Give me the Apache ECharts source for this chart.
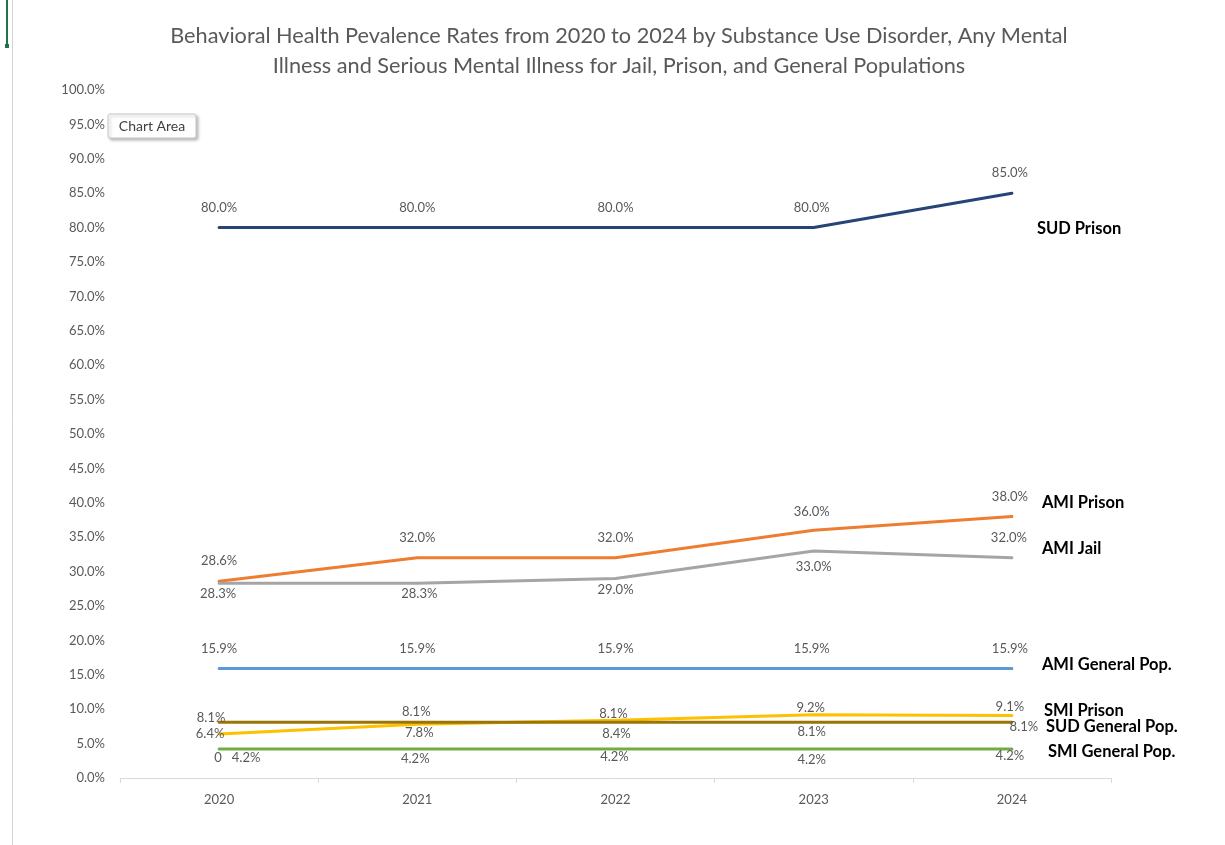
<!DOCTYPE html>
<html>
<head>
<meta charset="utf-8">
<script src="https://cdn.jsdelivr.net/npm/echarts@6/dist/echarts.min.js"></script>
<style>
html,body{margin:0;padding:0;background:#fff;}
#chart{width:1225px;height:845px;}
</style>
</head>
<body>
<div id="chart"></div>
<script>
// ---- data ----
const categories = ['2020', '2021', '2022', '2023', '2024'];
const sudPrison  = [80.0, 80.0, 80.0, 80.0, 85.0];
const amiPrison  = [28.6, 32.0, 32.0, 36.0, 38.0];
const amiJail    = [28.3, 28.3, 29.0, 33.0, 32.0];
const amiGeneral = [15.9, 15.9, 15.9, 15.9, 15.9];
const smiPrison  = [6.4, 7.8, 8.4, 9.2, 9.1];
const sudGeneral = [8.1, 8.1, 8.1, 8.1, 8.1];
const smiGeneral = [4.2, 4.2, 4.2, 4.2, 4.2];
const seriesNames = ['SUD Prison', 'AMI Prison', 'AMI Jail', 'AMI General Pop.', 'SMI Prison', 'SUD General Pop.', 'SMI General Pop.'];
const extraLabelText = '0';

// ---- styles (label placements relative to each point) ----
const labelOffsets = {
  'SUD Prison':       [[0,-20],[0,-20],[0,-20],[-2,-20],[-2,-20]],
  'AMI Prison':       [[0,-20],[0,-20],[0,-20],[-2,-19],[-2,-20]],
  'AMI Jail':         [[-1,11],[2,11],[0,11],[0,16],[-3,-20]],
  'AMI General Pop.': [[0,-20],[0,-20],[0,-20],[-2,-20],[-2,-20]],
  'SMI Prison':       [[-9,0],[2,8],[1,14],[-3,-7],[-2,-9]],
  'SUD General Pop.': [[-8,-4],[-1,-10],[-2,-8],[-2,10],[12,5]],
  'SMI General Pop.': [[27,9],[-2,10],[-1,8],[-2,11],[-2,7]]
};
const endOffsets = {
  'SUD Prison': [20,35], 'AMI Prison': [25,-14], 'AMI Jail': [25,-9],
  'AMI General Pop.': [25,-4], 'SMI Prison': [27,-5],
  'SUD General Pop.': [29,4], 'SMI General Pop.': [31,3]
};
const colors = ['#264478', '#ED7D31', '#A5A5A5', '#5B9BD5', '#FFC000', '#9A7407', '#70AD47'];
const allValues = [sudPrison, amiPrison, amiJail, amiGeneral, smiPrison, sudGeneral, smiGeneral];

const FONT = 'Lato';
const chart = echarts.init(document.getElementById('chart'), null, {renderer: 'canvas'});

const series = seriesNames.map((name, si) => ({
  name: name,
  type: 'line',
  z: 2 + si,
  symbol: 'circle',
  symbolSize: 2,
  showSymbol: true,
  color: colors[si],
  lineStyle: {width: 3, color: colors[si], cap: 'round'},
  itemStyle: {color: colors[si]},
  data: allValues[si].map((v, i) => ({
    value: v,
    label: {offset: labelOffsets[name][i]}
  })),
  label: {
    show: true,
    position: 'inside',
    formatter: p => p.value.toFixed(1) + '%',
    fontFamily: FONT, fontSize: 13, color: '#595959'
  },
  endLabel: {
    show: true,
    formatter: name,
    fontFamily: FONT, fontSize: 16.5, fontWeight: 'bold', color: '#000',
    distance: 5,
    offset: endOffsets[name]
  },
  emphasis: {disabled: true}
}));

chart.setOption({
  animation: false,
  backgroundColor: '#fff',
  title: {
    text: 'Behavioral Health Pevalence Rates from 2020 to 2024 by Substance Use Disorder, Any Mental\nIllness and Serious Mental Illness for Jail, Prison, and General Populations',
    left: 614, textAlign: 'center', top: 16,
    textStyle: {fontFamily: FONT, fontSize: 21.7, fontWeight: 'normal', color: '#595959', lineHeight: 30}
  },
  grid: {left: 120, right: 114, top: 90, bottom: 67, containLabel: false},
  xAxis: {
    type: 'category',
    data: categories,
    boundaryGap: true,
    axisLine: {lineStyle: {color: '#D9D9D9', width: 1}},
    axisTick: {show: true, length: 5, lineStyle: {color: '#D9D9D9'}},
    axisLabel: {fontFamily: FONT, fontSize: 13, color: '#595959', margin: 15},
    splitLine: {show: false}
  },
  yAxis: {
    type: 'value',
    min: 0, max: 100, interval: 5,
    axisLine: {show: false},
    axisTick: {show: false},
    splitLine: {show: false},
    axisLabel: {fontFamily: FONT, fontSize: 13, color: '#595959', margin: 15, formatter: v => v.toFixed(1) + '%'}
  },
  series: series
});

// extra "0" label beside the SMI General Pop. 2020 point
const p0 = chart.convertToPixel({xAxisIndex: 0, yAxisIndex: 0}, [categories[0], smiGeneral[0]]);
chart.setOption({
  graphic: [
    {type: 'text', x: p0[0] - 1, y: p0[1] + 9, z: 100,
     style: {text: extraLabelText, fontFamily: FONT, fontSize: 13, fill: '#595959', align: 'center', verticalAlign: 'middle'}},
    // spreadsheet artifacts
    {type: 'line', shape: {x1: 12.5, y1: 0, x2: 12.5, y2: 845}, style: {stroke: '#D4D4D4', lineWidth: 1}, z: 100},
    {type: 'rect', shape: {x: 6, y: 0, width: 2, height: 48}, style: {fill: '#217346'}, z: 100},
    {type: 'rect', shape: {x: 5, y: 44, width: 4, height: 4}, style: {fill: '#217346'}, z: 100},
    // "Chart Area" hover tooltip
    {type: 'rect', shape: {x: 108, y: 114, width: 88, height: 24, r: 2},
     style: {fill: '#fff', stroke: '#C6C6C6', lineWidth: 1, shadowBlur: 3, shadowOffsetX: 2, shadowOffsetY: 2, shadowColor: 'rgba(0,0,0,0.25)'}, z: 100},
    {type: 'text', x: 152, y: 126, z: 101,
     style: {text: 'Chart Area', fontFamily: FONT, fontSize: 14, fill: '#404040', align: 'center', verticalAlign: 'middle'}}
  ]
});
</script>
</body>
</html>
